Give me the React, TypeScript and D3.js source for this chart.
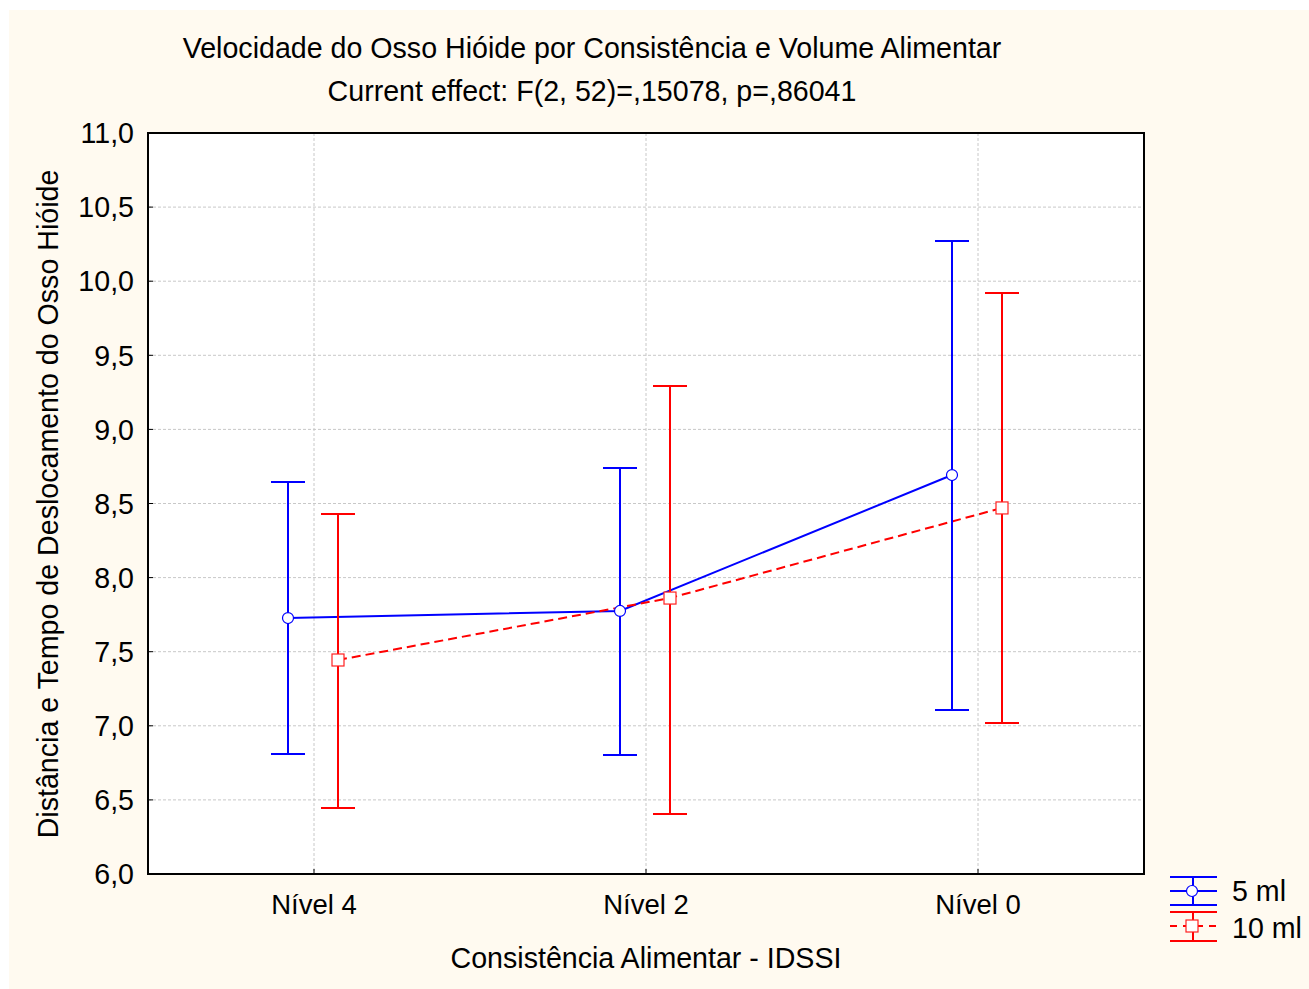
import React from "react";
import * as d3 from "d3";

const categories = ["Nível 4", "Nível 2", "Nível 0"];
const seriesNames = ["5 ml", "10 ml"];
const mean5 = [7.727, 7.775, 8.692];
const upper5 = [8.645, 8.74, 10.271];
const lower5 = [6.81, 6.803, 7.107];
const mean10 = [7.444, 7.862, 8.47];
const upper10 = [8.429, 9.293, 9.92];
const lower10 = [6.445, 6.405, 7.019];
const yTicks = [6.0, 6.5, 7.0, 7.5, 8.0, 8.5, 9.0, 9.5, 10.0, 10.5, 11.0];

const title = "Velocidade do Osso Hióide por Consistência e Volume Alimentar";
const subtitle = "Current effect: F(2, 52)=,15078, p=,86041";
const xTitle = "Consistência Alimentar - IDSSI";
const yTitle = "Distância e Tempo de Deslocamento do Osso Hióide";

const W = 1309;
const H = 989;
const L = 148, R = 1144, T = 133, B = 874;
const FONT = "Liberation Sans, Arial, sans-serif";
const FS = 28.6;
const FSX = 27.5;

export default function App() {
  const x = d3.scaleBand<string>().domain(categories).range([L, R]);
  const y = d3.scaleLinear().domain([6, 11]).range([B, T]);
  const cx = (c: string) => (x(c) as number) + x.bandwidth() / 2;
  const fmt = (v: number) => v.toFixed(1).replace(".", ",");

  const series = [
    { name: seriesNames[0], mean: mean5, up: upper5, lo: lower5, color: "#0000ff", off: -26, dash: undefined as string | undefined },
    { name: seriesNames[1], mean: mean10, up: upper10, lo: lower10, color: "#ff0000", off: 24, dash: "9,5" },
  ];
  const line = d3.line<[number, number]>().x((d) => d[0]).y((d) => d[1]);
  const cap = 17;

  return (
    <svg width={W} height={H} style={{ position: "absolute", left: 0, top: 0, display: "block" }} fontFamily={FONT}>
      <rect x={0} y={0} width={W} height={H} fill="#ffffff" />
      <rect x={9} y={10} width={W - 9} height={H - 10} fill="#fffaf0" />
      <rect x={L} y={T} width={R - L} height={B - T} fill="#ffffff" />
      {/* grid */}
      {yTicks.map((t) => (
        <line key={"gy" + t} x1={L} x2={R} y1={y(t)} y2={y(t)} stroke="#c8c8c8" strokeWidth={1} strokeDasharray="3,2" />
      ))}
      {categories.map((c) => (
        <line key={"gx" + c} x1={cx(c)} x2={cx(c)} y1={T} y2={B} stroke="#c8c8c8" strokeWidth={1} strokeDasharray="3,2" />
      ))}
      {/* lines */}
      {series.map((s) => (
        <path
          key={"l" + s.name}
          d={line(categories.map((c, i) => [cx(c) + s.off, y(s.mean[i])]) as [number, number][]) || ""}
          fill="none"
          stroke={s.color}
          strokeWidth={2}
          strokeDasharray={s.dash}
        />
      ))}
      {/* error bars */}
      {series.map((s) =>
        categories.map((c, i) => {
          const px = cx(c) + s.off;
          return (
            <g key={"e" + s.name + c} stroke={s.color} strokeWidth={2}>
              <line x1={px} x2={px} y1={y(s.up[i])} y2={y(s.lo[i])} />
              <line x1={px - cap} x2={px + cap} y1={y(s.up[i])} y2={y(s.up[i])} />
              <line x1={px - cap} x2={px + cap} y1={y(s.lo[i])} y2={y(s.lo[i])} />
            </g>
          );
        })
      )}
      {/* markers */}
      {categories.map((c, i) => (
        <circle key={"m5" + c} cx={cx(c) + series[0].off} cy={y(mean5[i])} r={5.5} fill="#fff" stroke="#0000ff" strokeWidth={1.2} />
      ))}
      {categories.map((c, i) => (
        <rect key={"m10" + c} x={cx(c) + series[1].off - 6} y={y(mean10[i]) - 6} width={12} height={12} fill="#fff" stroke="#ff2020" strokeWidth={1.2} />
      ))}
      {/* frame */}
      <rect x={L} y={T} width={R - L} height={B - T} fill="none" stroke="#000" strokeWidth={2} />
      {/* ticks */}
      {categories.map((c) => (
        <line key={"tx" + c} x1={cx(c)} x2={cx(c)} y1={B} y2={B - 5} stroke="#000" strokeWidth={1} />
      ))}
      {yTicks.map((t) => (
        <line key={"ty" + t} x1={L} x2={L + 5} y1={y(t)} y2={y(t)} stroke="#000" strokeWidth={1} />
      ))}
      {/* tick labels */}
      {yTicks.map((t) => (
        <text key={"yl" + t} x={134} y={y(t)} dy="0.36em" textAnchor="end" fontSize={FS} fill="#000">
          {fmt(t)}
        </text>
      ))}
      {categories.map((c) => (
        <text key={"xl" + c} x={cx(c)} y={904} dy="0.36em" textAnchor="middle" fontSize={FSX} fill="#000">
          {c}
        </text>
      ))}
      {/* titles */}
      <text x={592} y={48} dy="0.36em" textAnchor="middle" fontSize={FS} fill="#000">{title}</text>
      <text x={592} y={91} dy="0.36em" textAnchor="middle" fontSize={FS} fill="#000">{subtitle}</text>
      <text x={646} y={958} dy="0.36em" textAnchor="middle" fontSize={FS} fill="#000">{xTitle}</text>
      <text transform={`translate(48,504) rotate(-90)`} dy="0.36em" textAnchor="middle" fontSize={FS} fill="#000">{yTitle}</text>
      {/* legend */}
      <g stroke="#0000ff" strokeWidth={2}>
        <line x1={1170} x2={1217} y1={877} y2={877} />
        <line x1={1170} x2={1217} y1={891} y2={891} />
        <line x1={1170} x2={1217} y1={905} y2={905} />
        <line x1={1193} x2={1193} y1={877} y2={905} />
      </g>
      <circle cx={1192} cy={891} r={5.5} fill="#fff" stroke="#0000ff" strokeWidth={1.2} />
      <g stroke="#ff0000" strokeWidth={2}>
        <line x1={1170} x2={1217} y1={912} y2={912} />
        <line x1={1170} x2={1217} y1={926} y2={926} strokeDasharray="7,6" />
        <line x1={1170} x2={1217} y1={941} y2={941} />
        <line x1={1193} x2={1193} y1={912} y2={941} />
      </g>
      <rect x={1186} y={920} width={12} height={12} fill="#fff" stroke="#ff2020" strokeWidth={1.2} />
      <text x={1232} y={891} dy="0.36em" fontSize={FS} fill="#000">{seriesNames[0]}</text>
      <text x={1232} y={928} dy="0.36em" fontSize={FS} fill="#000">{seriesNames[1]}</text>
    </svg>
  );
}
